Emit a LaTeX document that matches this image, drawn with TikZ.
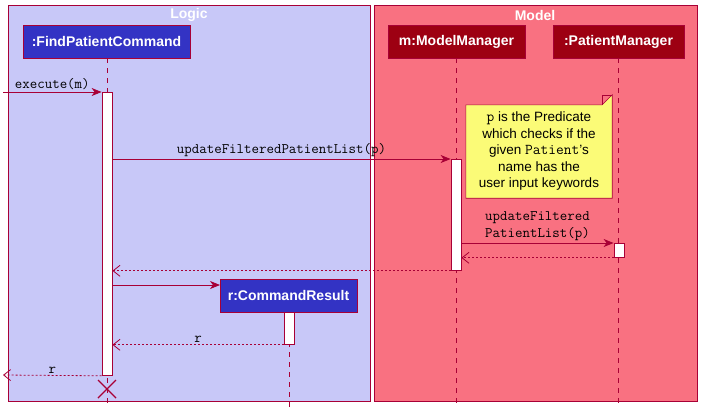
\documentclass[tikz,border=0pt]{standalone}
\usepackage{fontspec}
\setmainfont{Liberation Sans}
\usetikzlibrary{arrows.meta}

\definecolor{umlred}{HTML}{A80036}
\definecolor{logicbg}{HTML}{C8C8F8}
\definecolor{modelbg}{HTML}{F97181}
\definecolor{logicpart}{HTML}{3333C4}
\definecolor{modelpart}{HTML}{9D0012}
\definecolor{notebg}{HTML}{FBFB77}

\begin{document}
\begin{tikzpicture}
            [
                x=1pt, y=-1pt,
                frame/.style={draw=umlred, line width=0.8pt},
                frametitle/.style={text=white, font=\bfseries\fontsize{14}{16}\selectfont},
                participant/.style={draw=umlred, line width=0.8pt, text=white,
                    font=\bfseries\fontsize{14}{16}\selectfont,
                    minimum height=33pt, inner xsep=0pt},
                lifeline/.style={draw=umlred, line width=0.6pt, dash pattern=on 5pt off 5pt},
                activation/.style={draw=umlred, fill=white, line width=0.8pt,
                    minimum width=10pt, inner sep=0pt, anchor=north},
                msg/.style={draw=umlred, line width=0.8pt,
                    -{Stealth[length=10pt, width=8pt, inset=3pt]}},
                ret/.style={draw=umlred, line width=0.8pt, dash pattern=on 2pt off 2pt,
                    -{Straight Barb[length=7pt, width=11pt]}},
                call/.style={font=\ttfamily\fontsize{14.5}{16}\selectfont, inner sep=2pt}
            ]
            \useasboundingbox (0,0) rectangle (707,418);

            % boxes
            \draw[frame, fill=logicbg] (8,5) rectangle (370,401);
            \draw[frame, fill=modelbg] (374,5) rectangle (697,401);
            \node[frametitle] (logic) at (189,15) {Logic};
            \node[frametitle] (model) at (535,15) {Model};

            % participants
            \node[participant, fill=logicpart, minimum width=167pt] (fpc) at (106.5,41.5) {:FindPatientCommand};
            \node[participant, fill=modelpart, minimum width=137pt] (mm) at (456.5,41.5) {m:ModelManager};
            \node[participant, fill=modelpart, minimum width=131pt] (pm) at (618.5,41.5) {:PatientManager};
            \node[participant, fill=logicpart, minimum width=137pt] (cr) at (288.5,295.5) {r:CommandResult};

            % lifelines
            \coordinate (fpcend) at (107,407);
            \coordinate (mmend) at (456,407);
            \coordinate (pmend) at (618,407);
            \coordinate (crend) at (289,407);
            \draw[lifeline] (fpc.south -| fpcend) -- (fpcend);
            \draw[lifeline] (mm.south -| mmend) -- (mmend);
            \draw[lifeline] (pm.south -| pmend) -- (pmend);
            \draw[lifeline] (cr.south -| crend) -- (crend);

            % activations
            \node[activation, minimum height=283pt] (fpcact) at (107,92) {};
            \node[activation, minimum height=111pt] (mmact) at (456,159) {};
            \node[activation, minimum height=14pt] (pmact) at (619,243) {};
            \node[activation, minimum height=32pt] (cract) at (289,312) {};

            % messages
            \coordinate (outin) at (3,92);
            \coordinate (outret) at (3,375);
            \coordinate (crin) at (220,285);
            \draw[msg] (outin) -- (fpcact.north west)
                node[call, midway, above] {execute(m)};
            \draw[msg] (fpcact.east |- mmact.north) -- (mmact.north west)
                node[call, midway, above] {updateFilteredPatientList(p)};
            \draw[msg] (mmact.east |- pmact.north) -- (pmact.north west)
                node[call, midway, above, align=left, font=\ttfamily\fontsize{14.5}{16.5}\selectfont] {updateFiltered\\PatientList(p)};
            \draw[ret] (pmact.south west) -- (mmact.east |- pmact.south);
            \draw[ret] (mmact.south west) -- (fpcact.east |- mmact.south);
            \draw[msg] (fpcact.east |- crin) -- (crin);
            \draw[ret] (cract.south west) -- (fpcact.east |- cract.south)
                node[call, midway, above] {r};
            \draw[ret] (fpcact.south west) -- (outret)
                node[call, midway, above] {r};

            % destroy
            \draw[umlred, line width=1.4pt] (98,380) -- (116,398) (98,398) -- (116,380);

            % note
            \node[minimum width=146pt, minimum height=93pt, inner sep=0pt] (note) at (539,151.5) {};
            \draw[draw=umlred, fill=notebg, line width=0.6pt]
                (note.north west) -- ([xshift=-10pt]note.north east) -- ([yshift=10pt]note.north east)
                -- (note.south east) -- (note.south west) -- cycle;
            \draw[draw=umlred, line width=0.6pt]
                ([xshift=-10pt]note.north east) -- ([xshift=-10pt, yshift=10pt]note.north east) -- ([yshift=10pt]note.north east);
            \node[align=center, font=\fontsize{13.5}{16.5}\selectfont] (notetext) at (note.center)
                {{\ttfamily\fontsize{15}{16.5}\selectfont p} is the Predicate\\which checks if the\\given {\ttfamily\fontsize{15}{16.5}\selectfont Patient}'s\\name has the\\user input keywords};
\end{tikzpicture}
\end{document}
